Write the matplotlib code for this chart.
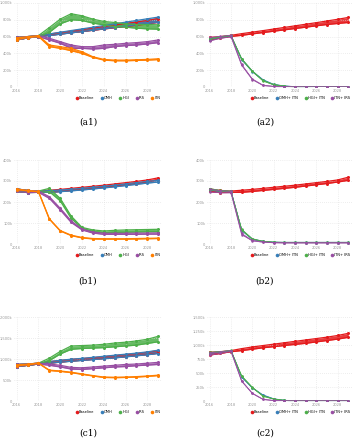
import numpy as np
import matplotlib
matplotlib.use("Agg")
import matplotlib.pyplot as plt
from matplotlib.lines import Line2D

# 年份
years = np.arange(2016, 2030)

# ── (a1) 单一干预, 单位: 千 ──
a1_base_hi = [590, 600, 612, 630, 648, 666, 684, 702, 720, 738, 756, 774, 792, 815]
a1_base_lo = [560, 585, 600, 615, 630, 645, 660, 675, 690, 705, 720, 735, 750, 770]
a1_omh_hi = [590, 600, 612, 632, 652, 672, 692, 712, 732, 752, 772, 792, 812, 832]
a1_omh_lo = [560, 585, 600, 612, 628, 644, 660, 676, 692, 708, 724, 740, 756, 770]
a1_hgi_hi = [590, 600, 612, 708, 808, 872, 848, 808, 780, 768, 752, 744, 744, 740]
a1_hgi_lo = [560, 585, 600, 652, 752, 800, 792, 760, 740, 720, 712, 700, 692, 688]
a1_irs_hi = [590, 600, 612, 580, 540, 500, 480, 480, 500, 508, 520, 528, 540, 560]
a1_irs_lo = [560, 585, 600, 560, 520, 460, 460, 452, 460, 480, 492, 500, 512, 528]
a1_itn_hi = [585, 598, 610, 500, 480, 460, 420, 360, 328, 320, 320, 324, 328, 336]
a1_itn_lo = [565, 588, 602, 480, 460, 432, 400, 352, 320, 312, 312, 316, 320, 326]

# ── (a2) 组合干预 ──
a2_base_hi = [590, 600, 615, 635, 653, 671, 690, 709, 728, 747, 766, 786, 806, 828]
a2_base_lo = [560, 585, 602, 615, 632, 648, 664, 680, 696, 712, 728, 744, 756, 768]
a2_omh_hi = [575, 598, 612, 335, 190, 88, 32, 12, 5, 3, 2, 2, 2, 2]
a2_omh_lo = [565, 590, 605, 325, 182, 82, 28, 10, 4, 2, 2, 2, 2, 2]
a2_hgi_hi = [578, 600, 615, 338, 192, 78, 30, 11, 4, 3, 2, 2, 2, 2]
a2_hgi_lo = [568, 592, 608, 328, 185, 72, 26, 9, 3, 2, 2, 2, 2, 2]
a2_irs_hi = [590, 602, 615, 268, 96, 22, 8, 3, 2, 1, 1, 1, 1, 1]
a2_irs_lo = [550, 580, 598, 258, 88, 18, 6, 2, 1, 1, 1, 1, 1, 1]

# ── (b1) ──
b1_base_hi = [262, 255, 252, 256, 260, 265, 270, 275, 280, 286, 292, 298, 305, 315]
b1_base_lo = [250, 245, 246, 246, 250, 255, 260, 265, 270, 276, 282, 288, 295, 305]
b1_omh_hi = [262, 255, 252, 254, 257, 261, 265, 270, 275, 280, 286, 292, 298, 303]
b1_omh_lo = [250, 245, 246, 246, 249, 253, 257, 262, 267, 272, 278, 284, 290, 295]
b1_hgi_hi = [262, 255, 252, 265, 217, 133, 79, 67, 62, 65, 67, 68, 69, 70]
b1_hgi_lo = [250, 245, 246, 249, 205, 122, 75, 59, 54, 55, 56, 57, 58, 59]
b1_irs_hi = [262, 255, 252, 225, 170, 110, 71, 57, 51, 51, 51, 52, 52, 53]
b1_irs_lo = [250, 245, 246, 217, 162, 103, 67, 52, 46, 46, 46, 46, 47, 47]
b1_itn_hi = [261, 255, 250, 120, 64, 42, 31, 26, 25, 25, 25, 26, 27, 28]
b1_itn_lo = [259, 253, 248, 118, 62, 40, 29, 24, 23, 23, 23, 24, 25, 26]

# ── (b2) ──
b2_base_hi = [262, 255, 252, 256, 260, 265, 270, 275, 280, 286, 292, 298, 305, 318]
b2_base_lo = [250, 245, 246, 246, 250, 255, 260, 265, 270, 276, 282, 288, 295, 303]
b2_omh_hi = [262, 254, 251, 68, 24, 13, 9, 8, 8, 8, 8, 8, 8, 8]
b2_omh_lo = [256, 250, 248, 64, 22, 12, 8, 7, 7, 7, 7, 7, 7, 7]
b2_hgi_hi = [264, 255, 252, 70, 25, 13, 9, 8, 8, 8, 8, 8, 8, 8]
b2_hgi_lo = [258, 251, 249, 66, 23, 12, 8, 7, 7, 7, 7, 7, 7, 7]
b2_irs_hi = [260, 254, 250, 50, 17, 10, 7, 6, 6, 6, 6, 6, 6, 6]
b2_irs_lo = [248, 244, 244, 45, 15, 9, 6, 5, 5, 5, 5, 5, 5, 5]

# ── (c1) ──
c1_base_hi = [870, 880, 900, 935, 965, 990, 1010, 1030, 1055, 1080, 1105, 1130, 1160, 1200]
c1_base_lo = [820, 850, 880, 900, 925, 950, 970, 990, 1010, 1030, 1055, 1080, 1105, 1140]
c1_omh_hi = [870, 880, 900, 940, 970, 995, 1015, 1040, 1065, 1090, 1115, 1140, 1170, 1210]
c1_omh_lo = [820, 850, 880, 900, 925, 945, 965, 985, 1005, 1025, 1050, 1075, 1100, 1130]
c1_hgi_hi = [870, 880, 900, 1020, 1180, 1310, 1320, 1330, 1350, 1380, 1400, 1430, 1470, 1540]
c1_hgi_lo = [820, 850, 880, 960, 1120, 1230, 1250, 1260, 1270, 1290, 1310, 1330, 1370, 1410]
c1_irs_hi = [870, 880, 900, 880, 850, 800, 790, 810, 830, 850, 870, 880, 900, 920]
c1_irs_lo = [820, 850, 880, 850, 810, 760, 750, 770, 790, 810, 820, 840, 855, 870]
c1_itn_hi = [860, 875, 905, 735, 715, 685, 645, 605, 570, 565, 570, 580, 595, 615]
c1_itn_lo = [840, 860, 895, 725, 705, 675, 635, 595, 560, 555, 560, 570, 585, 605]

# ── (c2) ──
c2_base_hi = [870, 880, 900, 935, 965, 990, 1015, 1040, 1065, 1090, 1115, 1140, 1170, 1208]
c2_base_lo = [820, 850, 880, 900, 925, 950, 970, 990, 1010, 1030, 1055, 1080, 1105, 1137]
c2_omh_hi = [865, 880, 900, 432, 238, 108, 40, 12, 5, 4, 4, 4, 4, 4]
c2_omh_lo = [855, 872, 895, 426, 232, 104, 36, 10, 4, 3, 3, 3, 3, 3]
c2_hgi_hi = [870, 882, 902, 448, 246, 90, 37, 12, 6, 5, 5, 5, 5, 5]
c2_hgi_lo = [860, 875, 896, 442, 240, 86, 34, 10, 5, 4, 4, 4, 4, 4]
c2_irs_hi = [860, 878, 900, 360, 140, 32, 9, 3, 2, 2, 2, 2, 2, 2]
c2_irs_lo = [820, 850, 885, 352, 134, 28, 7, 2, 1, 1, 1, 1, 1, 1]

labels_single = ["Baseline", "OMH", "HGI", "IRS", "ITN"]
labels_combo = ["Baseline", "OMH+ ITN", "HGI+ ITN", "ITN+ IRS"]

RED, BLUE, GREEN, PURPLE, ORANGE = "#e41a1c", "#377eb8", "#4daf4a", "#984ea3", "#ff7f00"

W, H = 354, 440


def px_axes(fig, x0, y0, x1, y1):
    """以像素坐标(左上为原点)创建坐标轴。"""
    return fig.add_axes([x0 / W, 1 - y1 / H, (x1 - x0) / W, (y1 - y0) / H])


def band(ax, lo, hi, color, lw=0.9, ms=2.2, alpha=0.85):
    lo = np.array(lo) * 1000
    hi = np.array(hi) * 1000
    ax.fill_between(years, lo, hi, color=color, alpha=alpha, lw=0)
    for s in (lo, hi):
        ax.plot(years, s, "-o", color=color, lw=lw, ms=ms, mew=0)


def fmt_k(v, _):
    if v == 0:
        return "0"
    return f"{v / 1000:,.0f}k"


def style(ax, ymax, ystep):
    ax.set_xlim(2015.75, 2029.35)
    ax.set_ylim(0, ymax)
    ax.set_xticks(np.arange(2016, 2030, 2))
    ax.set_yticks(np.arange(0, ymax + 1, ystep))
    ax.yaxis.set_major_formatter(matplotlib.ticker.FuncFormatter(fmt_k))
    ax.tick_params(labelsize=2.6, colors="#999999", length=0, pad=1.2)
    ax.grid(True, color="#dddddd", lw=0.5, ls=(0, (1, 2)))
    for sp in ax.spines.values():
        sp.set_visible(False)


def legend(ax, labels, colors):
    handles = [Line2D([], [], ls="", marker="o", ms=2.6, mew=0, color=c) for c in colors]
    ax.legend(handles, labels, loc="upper right", bbox_to_anchor=(1.0, -0.09), ncol=len(labels),
              frameon=False, fontsize=2.6, handletextpad=0.1, columnspacing=1.6,
              borderaxespad=0, handlelength=1.0)


fig = plt.figure(figsize=(W / 100, H / 100), dpi=100)

rows = [
    (3, 87, 122, 1_000_000, 200_000, "a",
     [(a1_base_lo, a1_base_hi), (a1_omh_lo, a1_omh_hi), (a1_hgi_lo, a1_hgi_hi),
      (a1_irs_lo, a1_irs_hi), (a1_itn_lo, a1_itn_hi)],
     [(a2_base_lo, a2_base_hi), (a2_omh_lo, a2_omh_hi), (a2_hgi_lo, a2_hgi_hi),
      (a2_irs_lo, a2_irs_hi)]),
    (160, 244, 281, 400_000, 100_000, "b",
     [(b1_base_lo, b1_base_hi), (b1_omh_lo, b1_omh_hi), (b1_hgi_lo, b1_hgi_hi),
      (b1_irs_lo, b1_irs_hi), (b1_itn_lo, b1_itn_hi)],
     [(b2_base_lo, b2_base_hi), (b2_omh_lo, b2_omh_hi), (b2_hgi_lo, b2_hgi_hi),
      (b2_irs_lo, b2_irs_hi)]),
    (317, 401, 433, 2_000_000, 500_000, "c",
     [(c1_base_lo, c1_base_hi), (c1_omh_lo, c1_omh_hi), (c1_hgi_lo, c1_hgi_hi),
      (c1_irs_lo, c1_irs_hi), (c1_itn_lo, c1_itn_hi)],
     [(c2_base_lo, c2_base_hi), (c2_omh_lo, c2_omh_hi), (c2_hgi_lo, c2_hgi_hi),
      (c2_irs_lo, c2_irs_hi)]),
]
c2_ymax, c2_step = 1_500_000, 250_000

for top, bottom, cap_y, ymax, ystep, tag, left_series, right_series in rows:
    # 左图: 单一干预
    ax = px_axes(fig, 14, top, 162, bottom)
    style(ax, ymax, ystep)
    for (lo, hi), c in zip(left_series, [RED, BLUE, GREEN, PURPLE, ORANGE]):
        band(ax, lo, hi, c)
    legend(ax, labels_single, [RED, BLUE, GREEN, PURPLE, ORANGE])

    # 右图: 组合干预
    ax2 = px_axes(fig, 207, top, 352, bottom)
    if tag == "c":
        style(ax2, c2_ymax, c2_step)
    else:
        style(ax2, ymax, ystep)
    (lo, hi) = right_series[0]
    band(ax2, lo, hi, RED)
    for (lo, hi), c in zip(right_series[1:], [BLUE, GREEN, PURPLE]):
        band(ax2, lo, hi, c, lw=0.6, ms=1.8)
    legend(ax2, labels_combo, [RED, BLUE, GREEN, PURPLE])

    cy = 1 - cap_y / H
    fig.text(88 / W, cy, f"({tag}1)", ha="center", va="center", fontsize=6.5, family="DejaVu Serif")
    fig.text(265 / W, cy, f"({tag}2)", ha="center", va="center", fontsize=6.5, family="DejaVu Serif")

fig.savefig("out.png", dpi=100)
